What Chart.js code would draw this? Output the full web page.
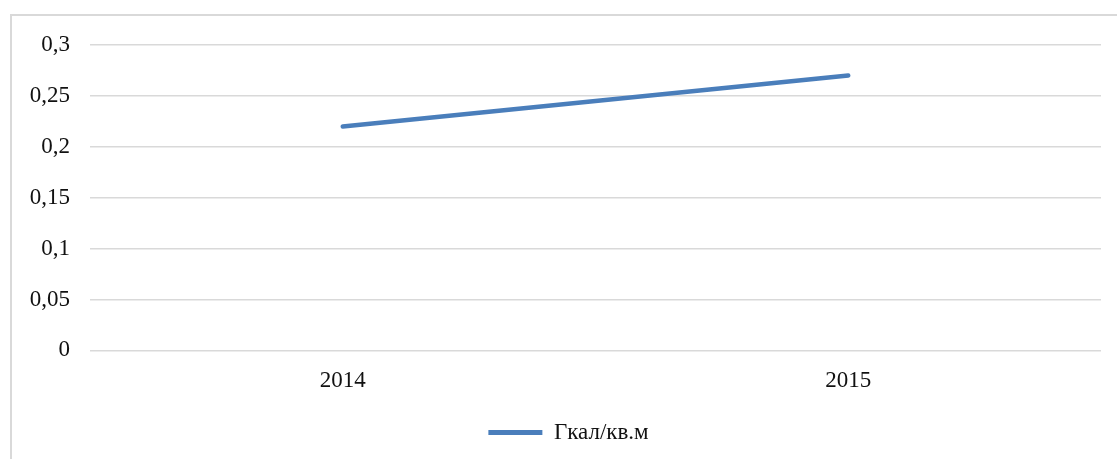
<!DOCTYPE html>
<html>
<head>
<meta charset="utf-8">
<script src="https://cdn.jsdelivr.net/npm/chart.js@4.4.0/dist/chart.umd.min.js"></script>
<style>
html,body{margin:0;padding:0;background:#fff;overflow:hidden;}
#wrap{position:relative;width:1117px;height:459px;}
#frame{position:absolute;left:10px;top:14px;width:1120px;height:460px;border:2px solid #d9d9d9;box-sizing:border-box;}
canvas{position:absolute;left:0;top:0;}
</style>
</head>
<body>
<div id="wrap">
<div id="frame"></div>
<canvas id="c" width="1117" height="459"></canvas>
</div>
<script>
const categories = ["2014", "2015"];
const seriesName = "Гкал/кв.м";
const seriesValues = [0.22, 0.27];
const yTicks = [0, 0.05, 0.1, 0.15, 0.2, 0.25, 0.3];

const color = '#4a7ebb';
const font = {family: "'Liberation Serif', 'Times New Roman', serif", size: 23};

const legendShift = {
  id: 'legendShift',
  afterLayout(chart) {
    chart.legend.left += 18;
    chart.legend.right += 18;
  }
};

new Chart(document.getElementById('c'), {
  type: 'line',
  data: {
    labels: categories,
    datasets: [{
      label: seriesName,
      data: seriesValues,
      borderColor: color,
      backgroundColor: color,
      borderWidth: 4.5,
      borderCapStyle: 'round',
      pointRadius: 0,
      tension: 0
    }]
  },
  plugins: [legendShift],
  options: {
    responsive: false,
    animation: false,
    layout: {padding: {left: 0, right: 16, top: 45, bottom: 5}},
    plugins: {
      legend: {
        position: 'bottom',
        labels: {
          font: font,
          color: '#111',
          boxWidth: 54,
          boxHeight: 5,
          useBorderRadius: true,
          borderRadius: 2.5,
          padding: 12,
          generateLabels: (chart) => [{
            text: seriesName,
            fillStyle: color,
            strokeStyle: color,
            lineWidth: 0,
            fontColor: '#111',
            datasetIndex: 0
          }]
        }
      },
      tooltip: {enabled: false}
    },
    scales: {
      x: {
        offset: true,
        grid: {display: false},
        border: {display: false},
        afterFit: (scale) => { scale.height += 5; },
        ticks: {font: font, color: '#111', padding: 9}
      },
      y: {
        min: 0,
        max: 0.3,
        afterBuildTicks: (scale) => { scale.ticks = yTicks.map(v => ({value: v})); },
        afterFit: (scale) => { scale.width = 90; },
        grid: {color: '#d9d9d9', lineWidth: 1.5, drawTicks: false},
        border: {display: false},
        ticks: {
          font: font,
          color: '#111',
          padding: 20,
          callback: (v) => String(Math.round(v * 100) / 100).replace('.', ',')
        }
      }
    }
  }
});
</script>
</body>
</html>
